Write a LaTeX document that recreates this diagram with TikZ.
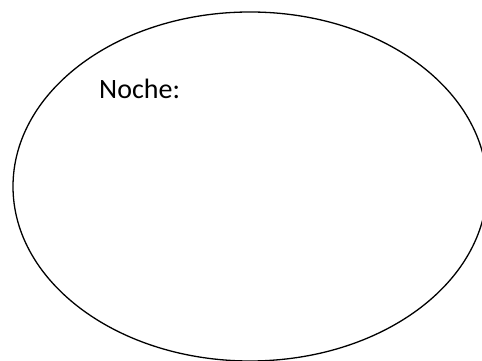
\documentclass[tikz,border=0pt]{standalone}
\usepackage{fontspec}
\setmainfont{Carlito}
\usetikzlibrary{shapes.geometric}

\begin{document}
\begin{tikzpicture}[x=1pt,y=1pt]
    \useasboundingbox (0,0) rectangle (482,361);

    % Night bubble
    \node[draw,ellipse,line width=1.3pt,inner sep=0pt,
          minimum width=474pt,minimum height=349pt] (noche) at (250,174.5) {};

    % Label
    \node[anchor=base west,inner sep=0pt,font=\fontsize{28}{34}\selectfont] (label) at (99,262) {Noche:};
\end{tikzpicture}
\end{document}
